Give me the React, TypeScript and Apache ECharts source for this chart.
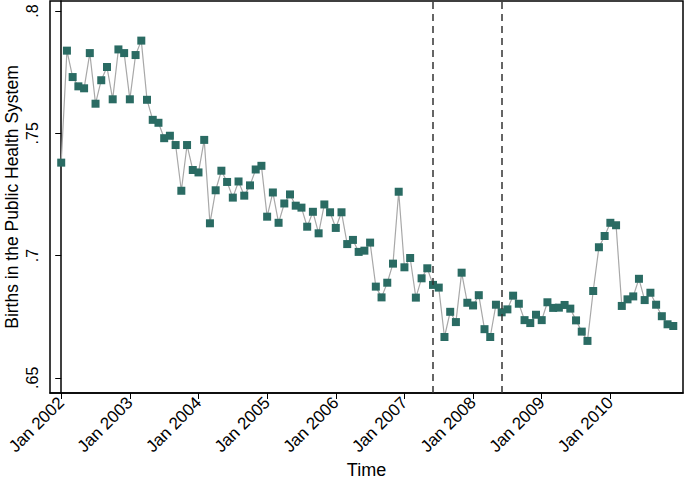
import React, { useEffect, useRef } from "react";
import * as echarts from "echarts";

const startYear = 2002;
// Monthly share, Jan 2002 .. Dec 2010
const births = [
  0.738, 0.7838, 0.773, 0.7692, 0.7684, 0.7828, 0.7621, 0.7717, 0.7771, 0.7639, 0.7843, 0.7828,
  0.7639, 0.782, 0.7879, 0.7637, 0.7555, 0.7543, 0.748, 0.749, 0.7452, 0.7265, 0.7452, 0.735,
  0.734, 0.7473, 0.7132, 0.7267, 0.7347, 0.7301, 0.7237, 0.7303, 0.7245, 0.7287, 0.7352, 0.7367,
  0.7159, 0.7258, 0.7134, 0.7213, 0.725, 0.7204, 0.7196, 0.7118, 0.7179, 0.7091, 0.7209, 0.7177,
  0.7113, 0.7177, 0.7047, 0.7064, 0.7015, 0.702, 0.7053, 0.6873, 0.6829, 0.6889, 0.6967, 0.7261,
  0.6952, 0.699, 0.6828, 0.6907, 0.6948, 0.688, 0.6869, 0.6667, 0.677, 0.6728, 0.693, 0.6807,
  0.6796, 0.6838, 0.6699, 0.6667, 0.6799, 0.6768, 0.678, 0.6836, 0.6803, 0.6736, 0.6724, 0.6758,
  0.6736, 0.6809, 0.6786, 0.6787, 0.6798, 0.6783, 0.6735, 0.6689, 0.6651, 0.6855, 0.7034, 0.708,
  0.7134, 0.7124, 0.6794, 0.6821, 0.6833, 0.6905, 0.6818, 0.6848, 0.6799, 0.6752, 0.6719, 0.6712,
];
const xTicks = [0, 12, 24, 36, 48, 60, 72, 84, 96];
const yTicks = [0.65, 0.7, 0.75, 0.8];
const yTickLabels = [".65", ".7", ".75", ".8"];
const policyLines = [65, 77]; // Jun 2007, Jun 2008

export default function App() {
  const ref = useRef<HTMLDivElement>(null);
  useEffect(() => {
    if (!ref.current) return;
    const chart = echarts.init(ref.current, null, { renderer: "svg" });
    const font = "Liberation Sans, Arial, Helvetica, sans-serif";
    chart.setOption({
      animation: false,
      backgroundColor: "#ffffff",
      grid: {
        left: 50,
        right: 2,
        top: 1,
        bottom: 88,
        containLabel: false,
        outerBoundsMode: "none",
        show: true,
        borderColor: "#000",
        borderWidth: 1.5,
      },
      xAxis: {
        type: "value",
        min: -1.96,
        max: 108.7,
        name: "Time",
        nameLocation: "middle",
        nameGap: 68,
        nameMoveOverlap: false,
        nameTextStyle: { fontSize: 18, color: "#000", fontFamily: font, verticalAlign: "top" },
        axisLine: { show: true, lineStyle: { color: "#000", width: 1.5 } },
        axisTick: { show: true, customValues: xTicks, length: 6, lineStyle: { color: "#000" } },
        axisLabel: {
          customValues: xTicks,
          rotate: 45,
          fontSize: 17,
          color: "#000",
          fontFamily: font,
          margin: 7,
          hideOverlap: false,
          formatter: (v: number) => "Jan " + (startYear + Math.round(v / 12)),
        },
        splitLine: { show: false },
      },
      yAxis: {
        type: "value",
        min: 0.6438,
        max: 0.8041,
        name: "Births in the Public Health System",
        nameLocation: "middle",
        nameGap: 29,
        nameMoveOverlap: false,
        nameTextStyle: { fontSize: 17.5, color: "#000", fontFamily: font },
        axisLine: { show: true, lineStyle: { color: "#000", width: 1.5 } },
        axisTick: { show: true, customValues: yTicks, length: 6, lineStyle: { color: "#000" } },
        axisLabel: {
          customValues: yTicks,
          rotate: 90,
          fontSize: 16,
          color: "#000",
          fontFamily: font,
          margin: 10,
          formatter: (v: number) => {
            const i = yTicks.findIndex((t) => Math.abs(t - v) < 1e-6);
            return i >= 0 ? yTickLabels[i] : "";
          },
        },
        splitLine: { show: false },
      },
      series: [
        {
          type: "line",
          data: births.map((v, i) => [i, v]),
          symbol: "rect",
          symbolSize: 8,
          itemStyle: { color: "#2a6b63" },
          lineStyle: { color: "#a8a8a8", width: 1.2 },
          markLine: {
            silent: true,
            symbol: "none",
            label: { show: false },
            lineStyle: { color: "#333", type: [7, 5], width: 1.5 },
            data: policyLines.map((x) => ({ xAxis: x })),
          },
        },
      ],
    });
    return () => chart.dispose();
  }, []);
  return <div ref={ref} style={{ width: 685, height: 481, position: "absolute", left: 0, top: 0 }} />;
}
